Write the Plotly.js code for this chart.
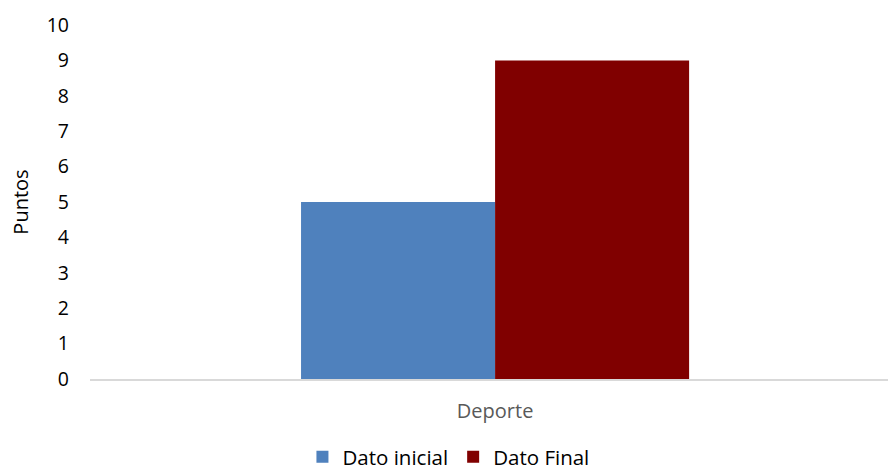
<!DOCTYPE html>
<html><head><meta charset="utf-8">
<script src="https://cdn.plot.ly/plotly-3.0.1.min.js"></script>
<style>html,body{margin:0;padding:0;background:#fff}#chart{width:888px;height:472px}</style>
</head><body><div id="chart"></div>
<script>
const categories = ["Deporte"];
const datoInicial = [5];
const datoFinal = [9];
const seriesNames = ["Dato inicial", "Dato Final"];
const yTicks = [0,1,2,3,4,5,6,7,8,9,10];

const traces = [
  {type:'bar', x:categories, y:datoInicial, name:seriesNames[0], marker:{color:'#4f81bd'}},
  {type:'bar', x:categories, y:datoFinal, name:seriesNames[1], marker:{color:'#800000'}}
];
const layout = {
  width:888, height:472,
  margin:{l:90, r:0, t:25, b:93},
  paper_bgcolor:'#fff', plot_bgcolor:'#fff',
  font:{family:'"Open Sans", sans-serif', size:19, color:'#000'},
  barmode:'group', bargap:0.521, bargroupgap:0,
  xaxis:{type:'category', range:[-0.5,0.485], showline:true, linecolor:'#d9d9d9', linewidth:2,
    showgrid:false, ticks:'', tickfont:{color:'#595959', size:20}, ticklabelstandoff:13, fixedrange:true},
  yaxis:{range:[0,10], tickvals:yTicks, showgrid:false, zeroline:false, showline:false, ticks:'',
    ticklabelstandoff:20, tickfont:{size:19.5},
    title:{text:'Puntos', font:{size:20}, standoff:12}},
  legend:{orientation:'h', xref:'container', yref:'container', x:0.505, xanchor:'center', y:0.032, yanchor:'middle',
    font:{size:20.5}, itemwidth:30, traceorder:'normal'},
  showlegend:true
};
Plotly.newPlot('chart', traces, layout, {displayModeBar:false, staticPlot:true});
</script></body></html>
